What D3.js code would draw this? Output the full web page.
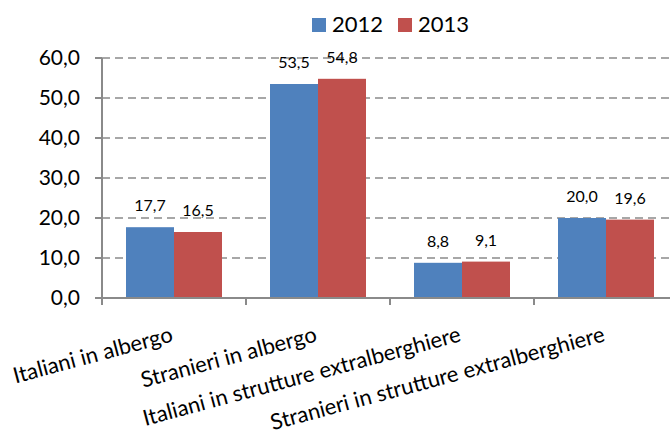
<!DOCTYPE html>
<html>
<head>
  <meta charset="utf-8">
  <title></title>
<style>
  body { margin: 0; background: #fff; }
  text { font-family: Lato, "Liberation Sans", sans-serif; fill: #000; }
  .grid line { stroke: #8a8a8a; stroke-width: 1.5; stroke-dasharray: 8,5; }
  .axis line { stroke: #8a8a8a; stroke-width: 2; }
</style>
</head>
<body>
<svg width="670" height="434"></svg>
<script src="https://d3js.org/d3.v7.min.js"></script>
<script>

// data
var categories = ["Italiani in albergo", "Stranieri in albergo", "Italiani in strutture extralberghiere", "Stranieri in strutture extralberghiere"];
var series = ["2012", "2013"];
var values2012 = [17.7, 53.5, 8.8, 20.0];
var values2013 = [16.5, 54.8, 9.1, 19.6];
var yTicks = [0, 10, 20, 30, 40, 50, 60];
var colors = ["#4f81bd", "#c0504d"];

var svg = d3.select("svg");
var fmt = function (v) { return v.toFixed(1).replace(".", ","); };

// scales
var x = d3.scaleBand()
    .domain(categories)
    .range([102, 678])
    .paddingInner(1 / 3)
    .paddingOuter(1 / 6);
var xs = d3.scaleBand()
    .domain(series)
    .range([0, x.bandwidth()]);
var y = d3.scaleLinear()
    .domain([0, 60])
    .range([298, 58]);
var color = d3.scaleOrdinal().domain(series).range(colors);

// gridlines
svg.append("g")
    .attr("class", "grid")
    .selectAll("line")
    .data(yTicks.filter(function (d) { return d > 0; }))
    .enter().append("line")
      .attr("x1", 102).attr("x2", 678)
      .attr("y1", function (d) { return y(d); })
      .attr("y2", function (d) { return y(d); });

// bars
var rows = categories.map(function (c, i) {
  return { cat: c, vals: [{ s: "2012", v: values2012[i] }, { s: "2013", v: values2013[i] }] };
});

var groups = svg.append("g").selectAll("g")
    .data(rows)
    .enter().append("g")
      .attr("transform", function (d) { return "translate(" + x(d.cat) + ",0)"; });

groups.selectAll("rect")
    .data(function (d) { return d.vals; })
    .enter().append("rect")
      .attr("x", function (d) { return xs(d.s); })
      .attr("width", xs.bandwidth())
      .attr("y", function (d) { return y(d.v); })
      .attr("height", function (d) { return y(0) - y(d.v); })
      .attr("fill", function (d) { return color(d.s); });

groups.selectAll("text")
    .data(function (d) { return d.vals; })
    .enter().append("text")
      .attr("x", function (d) { return xs(d.s) + xs.bandwidth() / 2; })
      .attr("y", function (d) { return y(d.v) - 16; })
      .attr("text-anchor", "middle")
      .style("font-size", "16px")
      .text(function (d) { return fmt(d.v); });

// y axis
var yAxis = svg.append("g").attr("class", "axis");
yAxis.append("line")
    .attr("x1", 102).attr("x2", 102)
    .attr("y1", y(60)).attr("y2", y(0));
yAxis.selectAll(".tick")
    .data(yTicks)
    .enter().append("line")
      .attr("x1", 95).attr("x2", 102)
      .attr("y1", function (d) { return y(d); })
      .attr("y2", function (d) { return y(d); });
yAxis.selectAll("text")
    .data(yTicks)
    .enter().append("text")
      .attr("x", 80)
      .attr("y", function (d) { return y(d); })
      .attr("dy", "0.35em")
      .attr("text-anchor", "end")
      .style("font-size", "21px")
      .text(fmt);

// x axis
var xAxis = svg.append("g").attr("class", "axis");
xAxis.append("line")
    .attr("x1", 102).attr("x2", 678)
    .attr("y1", y(0)).attr("y2", y(0));
var edges = categories.map(function (c) { return x(c) - (x.step() - x.bandwidth()) / 2; });
edges.push(edges[edges.length - 1] + x.step());
xAxis.selectAll(".tick")
    .data(edges)
    .enter().append("line")
      .attr("x1", function (d) { return d; })
      .attr("x2", function (d) { return d; })
      .attr("y1", y(0)).attr("y2", y(0) + 7);
xAxis.selectAll("text")
    .data(categories)
    .enter().append("text")
      .attr("transform", function (d) {
        return "translate(" + (x(d) + x.bandwidth() / 2) + ",341) rotate(-15)";
      })
      .attr("text-anchor", "end")
      .style("font-size", "22px")
      .text(function (d) { return d; });

// legend
var legend = svg.append("g").selectAll("g")
    .data(series)
    .enter().append("g")
      .attr("transform", function (d, i) { return "translate(" + (312 + i * 86) + ",18)"; });
legend.append("rect")
    .attr("width", 14).attr("height", 14)
    .attr("fill", function (d) { return color(d); });
legend.append("text")
    .attr("x", 20)
    .attr("y", 14)
    .style("font-size", "22px")
    .text(function (d) { return d; });

</script>
</body>
</html>
